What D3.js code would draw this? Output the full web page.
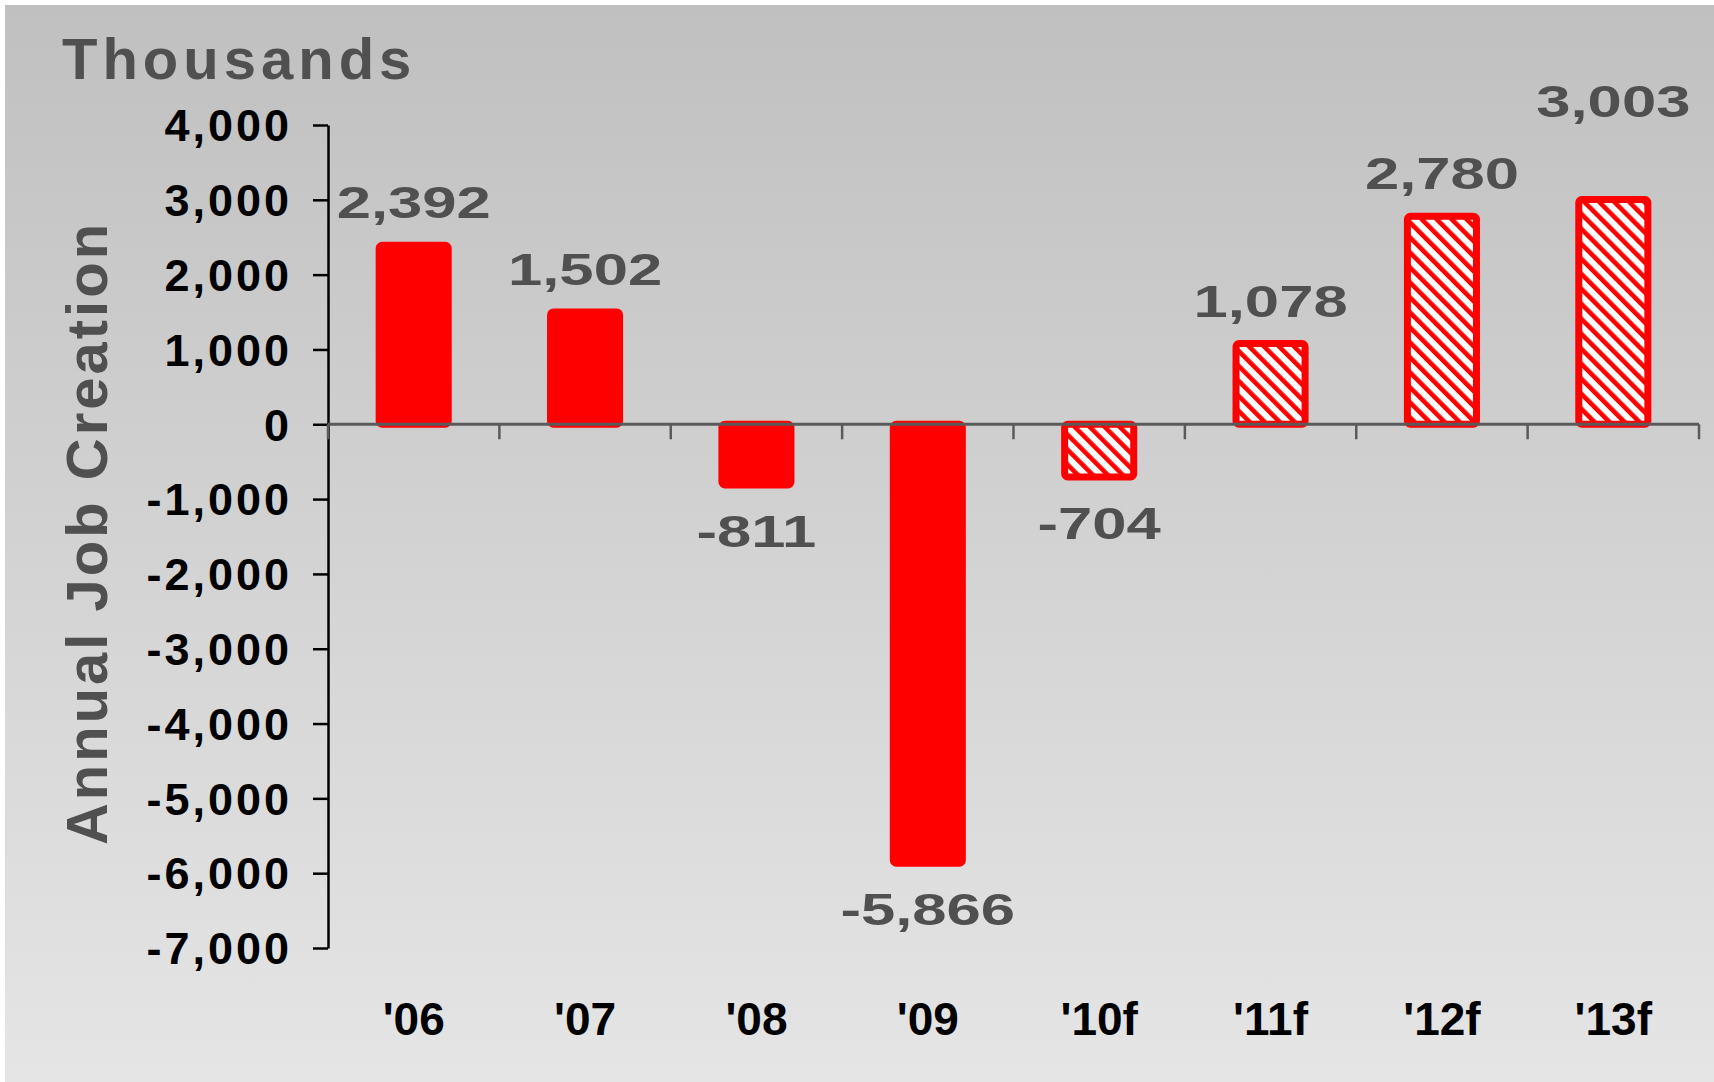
<!DOCTYPE html>
<meta charset="utf-8">
<style>
  body { margin: 0; background: #fff; }
  text { font-family: "Liberation Sans", Arial, sans-serif; font-weight: bold; }
</style>

<script src="https://d3js.org/d3.v7.min.js"></script>

<div id="my_dataviz"></div>

<script>

// data (thousands of jobs)
var years    = ["'06", "'07", "'08", "'09", "'10f", "'11f", "'12f", "'13f"];
var jobs     = [2392, 1502, -811, -5866, -704, 1078, 2780, 3003];
var forecast = [false, false, false, false, true, true, true, true];
var yTicks   = [4000, 3000, 2000, 1000, 0, -1000, -2000, -3000, -4000, -5000, -6000, -7000];
// the last label sits higher than the others in the original
var labelNudge = [0, 0, 0, 0, 0, 0, 0, -56];

var W = 1714, H = 1082;
var margin = {top: 125, right: 15, bottom: 134, left: 328};

var svg = d3.select("#my_dataviz")
  .append("svg")
    .attr("width", W)
    .attr("height", H);

// grey gradient background
var defs = svg.append("defs");
var grad = defs.append("linearGradient")
    .attr("id", "bg")
    .attr("x1", 0).attr("y1", 0).attr("x2", 0).attr("y2", 1);
grad.append("stop").attr("offset", "0%").attr("stop-color", "#c0c0c0");
grad.append("stop").attr("offset", "100%").attr("stop-color", "#e5e5e5");

// diagonal hatching for the forecast bars
var pat = defs.append("pattern")
    .attr("id", "hatch")
    .attr("patternUnits", "userSpaceOnUse")
    .attr("width", 10.6)
    .attr("height", 10.6)
    .attr("patternTransform", "rotate(-45)");
pat.append("rect").attr("width", 10.6).attr("height", 10.6).attr("fill", "#fff");
pat.append("rect").attr("width", 4.6).attr("height", 10.6).attr("fill", "#ff0000");

svg.append("rect")
    .attr("x", 5).attr("y", 5)
    .attr("width", W - 5).attr("height", H - 5)
    .attr("fill", "url(#bg)");

// scales
var x = d3.scaleBand()
    .domain(years)
    .range([margin.left, W - margin.right])
    .paddingInner(0.597)
    .paddingOuter(0.2985);

var y = d3.scaleLinear()
    .domain([-7000, 4000])
    .range([H - margin.bottom, margin.top]);

// Y axis
var fmt = function(d) { return d3.format(",")(d).replace("\u2212", "-"); };
var yAxis = svg.append("g")
    .attr("transform", "translate(" + margin.left + ",0)")
    .call(d3.axisLeft(y)
      .tickValues(yTicks)
      .tickSize(15)
      .tickSizeOuter(0)
      .tickPadding(21)
      .tickFormat(fmt));
yAxis.select(".domain").attr("stroke", "#000").attr("stroke-width", 2.5);
yAxis.selectAll(".tick line").attr("stroke", "#000").attr("stroke-width", 2.5);
yAxis.selectAll(".tick text")
    .attr("fill", "#000")
    .attr("dy", "0.35em")
    .style("font-size", "45px")
    .style("letter-spacing", "3px");

// bars
svg.selectAll(".bar")
    .data(jobs)
    .enter()
    .append("rect")
      .attr("class", "bar")
      .attr("x", function(d, i) { return x(years[i]); })
      .attr("y", function(d) { return y(Math.max(0, d)); })
      .attr("width", x.bandwidth())
      .attr("height", function(d) { return Math.abs(y(d) - y(0)); })
      .attr("rx", 3)
      .attr("fill", function(d, i) { return forecast[i] ? "url(#hatch)" : "#ff0000"; })
      .attr("stroke", "#ff0000")
      .attr("stroke-width", 7)
      .attr("stroke-linejoin", "round");

// zero line with category ticks
var x0 = x.range()[0], x1 = x.range()[1];
svg.append("line")
    .attr("x1", x0).attr("x2", x1)
    .attr("y1", y(0)).attr("y2", y(0))
    .attr("stroke", "#5a5a5a")
    .attr("stroke-width", 3);
svg.selectAll(".cattick")
    .data(d3.range(years.length + 1))
    .enter()
    .append("line")
      .attr("x1", function(i) { return x0 + i * x.step(); })
      .attr("x2", function(i) { return x0 + i * x.step(); })
      .attr("y1", y(0))
      .attr("y2", y(0) + 15)
      .attr("stroke", "#5a5a5a")
      .attr("stroke-width", 2.5);

// category labels
svg.selectAll(".xlabel")
    .data(years)
    .enter()
    .append("text")
      .attr("x", function(d) { return x(d) + x.bandwidth() / 2; })
      .attr("y", 1035)
      .attr("text-anchor", "middle")
      .style("font-size", "46px")
      .attr("fill", "#000")
      .text(function(d) { return d; });

// value labels (wide, grey)
svg.selectAll(".vlabel")
    .data(jobs)
    .enter()
    .append("text")
      .attr("transform", function(d, i) {
        var cx = x(years[i]) + x.bandwidth() / 2;
        var cy = d >= 0 ? y(d) - 27 + labelNudge[i] : y(d) + 62;
        return "translate(" + cx + "," + cy + ") scale(1.4,1)";
      })
      .attr("text-anchor", "middle")
      .style("font-size", "44px")
      .attr("fill", "#505050")
      .text(function(d) { return fmt(d); });

// titles
svg.append("text")
    .attr("x", 62)
    .attr("y", 79)
    .style("font-size", "58px")
    .style("letter-spacing", "5px")
    .attr("fill", "#505050")
    .text("Thousands");

svg.append("text")
    .attr("transform", "translate(107,533) rotate(-90)")
    .attr("text-anchor", "middle")
    .style("font-size", "58px")
    .style("letter-spacing", "3px")
    .attr("fill", "#505050")
    .text("Annual Job Creation");

</script>
